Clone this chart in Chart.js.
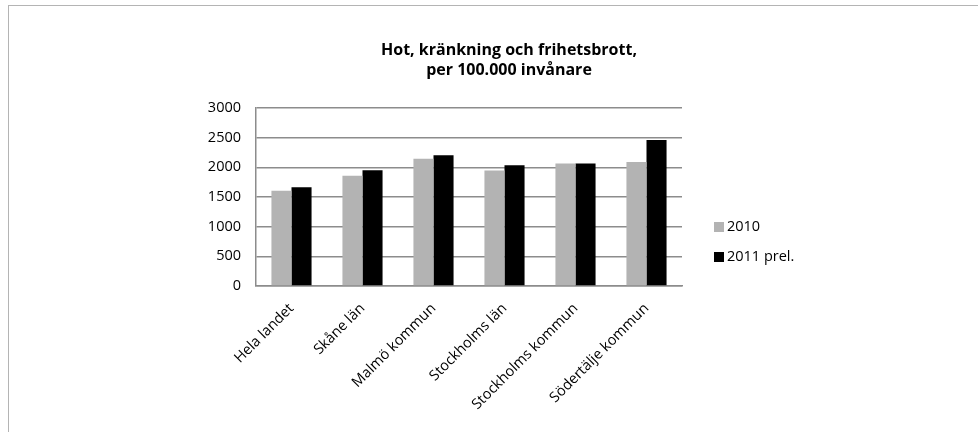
<!DOCTYPE html>
<html>
<head>
<meta charset="utf-8">
<script src="https://cdn.jsdelivr.net/npm/chart.js@4/dist/chart.umd.min.js"></script>
<style>
  html, body { margin: 0; padding: 0; background: #fff; }
  #wrap { position: relative; width: 978px; height: 432px; overflow: hidden; font-family: "Open Sans", sans-serif; }
  #frame { position: absolute; left: 8px; top: 5px; width: 1000px; height: 500px; border: 1px solid #b4b4b4; box-sizing: border-box; }
  #title { position: absolute; left: 309px; width: 400px; top: 39px; text-align: center; font-weight: bold; font-size: 16px; line-height: 20px; color: #000; }
  .leg { position: absolute; left: 714px; font-size: 14.5px; color: #000; line-height: 16px; }
  .leg span { display: inline-block; width: 10px; height: 10px; margin-right: 3px; vertical-align: -1px; }
  canvas { position: absolute; left: 0; top: 0; }
</style>
</head>
<body>
<div id="wrap">
  <div id="frame"></div>
  <canvas id="c" width="978" height="432"></canvas>
  <div id="title">Hot, kränkning och frihetsbrott,<br>per 100.000 invånare</div>
  <div id="legend"></div>
</div>
<script>
const categories = ["Hela landet", "Skåne län", "Malmö kommun", "Stockholms län", "Stockholms kommun", "Södertälje kommun"];
const seriesNames = ["2010", "2011 prel."];
const values2010 = [1605, 1860, 2145, 1945, 2065, 2090];
const values2011 = [1665, 1950, 2205, 2035, 2065, 2460];
const yTicks = [0, 500, 1000, 1500, 2000, 2500, 3000];
const colors = ["#b3b3b3", "#000000"];

const legend = document.getElementById('legend');
const legendTops = [218, 248];
seriesNames.forEach((n, i) => {
  const d = document.createElement('div');
  d.className = 'leg';
  d.style.top = legendTops[i] + 'px';
  d.innerHTML = '<span style="background:' + colors[i] + '"></span>' + n;
  legend.appendChild(d);
});

const tickFont = { family: 'Open Sans', size: 14.5 };

new Chart(document.getElementById('c'), {
  type: 'bar',
  data: {
    labels: categories,
    datasets: [
      { label: seriesNames[0], data: values2010, backgroundColor: colors[0], categoryPercentage: 0.565, barPercentage: 1.0 },
      { label: seriesNames[1], data: values2011, backgroundColor: colors[1], categoryPercentage: 0.565, barPercentage: 1.0 }
    ]
  },
  options: {
    responsive: false,
    animation: false,
    layout: { padding: { left: 0, right: 296, top: 108, bottom: 0 } },
    plugins: { legend: { display: false }, title: { display: false }, tooltip: { enabled: false } },
    scales: {
      x: {
        grid: { display: false },
        border: { display: true, color: '#8c8c8c', width: 1.5 },
        ticks: { color: '#000', font: tickFont, minRotation: 45, maxRotation: 45, padding: 6, autoSkip: false },
        afterFit: (s) => { s.height = 146; }
      },
      y: {
        min: 0, max: 3000,
        afterBuildTicks: (s) => { s.ticks = yTicks.map(v => ({ value: v })); },
        grid: { color: '#8c8c8c', lineWidth: 1.5, drawTicks: false },
        border: { display: true, color: '#8c8c8c', width: 1.5 },
        ticks: { color: '#000', font: tickFont, padding: 15, callback: (v) => String(v) },
        afterFit: (s) => { s.width = 256; }
      }
    }
  }
});
</script>
</body>
</html>
